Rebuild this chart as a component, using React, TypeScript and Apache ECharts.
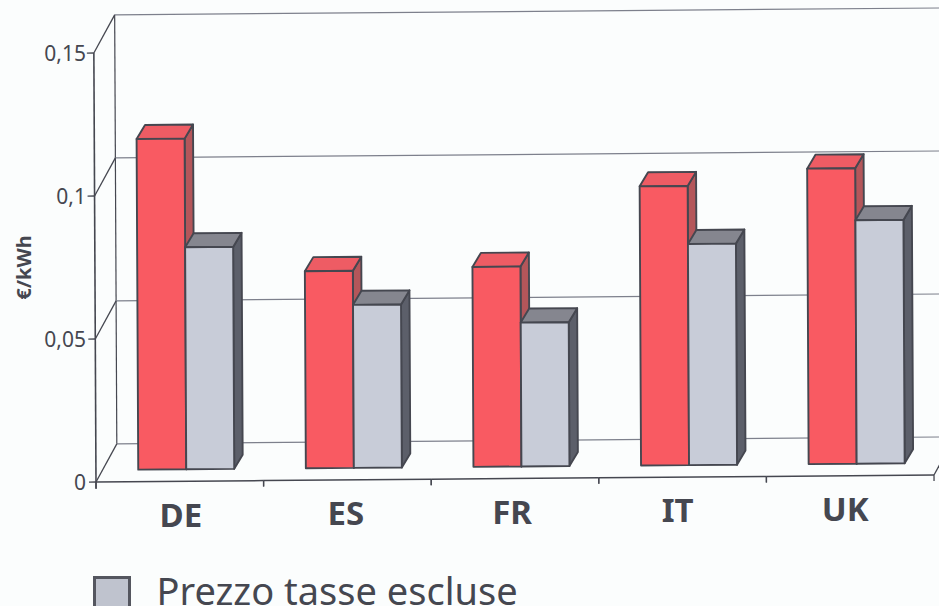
import React, { useEffect, useRef } from "react";
import * as echarts from "echarts";

const categories = ["DE", "ES", "FR", "IT", "UK"];
const withTax = [0.1156, 0.0689, 0.0699, 0.0976, 0.1033];
const withoutTax = [0.0776, 0.057, 0.0503, 0.0773, 0.0851];
const yTicks = [0, 0.05, 0.1, 0.15];
const labelDrops = [6, 4, 3, 1, 0];
const labelShifts = [1, -1.6, -3, -5, -5];

const INK = "#454750";
const WALL = "#7d808c";
const PIVOT_X = 96;
const PIVOT_Y = 482;

// the scanned page sits slightly rotated
const tilt = (x: number, y: number) => [
  x + (y - PIVOT_Y) * 0.005,
  y - (x - PIVOT_X) * 0.0083,
];

const poly = (pts: number[][], fill: string, stroke = INK, lineWidth = 1.9) => ({
  type: "polygon",
  shape: { points: pts.map(([x, y]) => tilt(x, y)) },
  style: { fill, stroke, lineWidth, lineJoin: "round" },
});

const seg = (a: number[], b: number[], stroke: string, lineWidth = 1.2) => {
  const [p, q] = [tilt(a[0], a[1]), tilt(b[0], b[1])];
  return {
    type: "line",
    shape: { x1: p[0], y1: p[1], x2: q[0], y2: q[1] },
    style: { stroke, lineWidth },
  };
};

const BACK_X = 21;
const BACK_Y = -38;

const wallItem = (params: any, api: any) => {
  const v = api.value(0);
  const [x, y] = api.coord([0, v]);
  const band = api.size([1, 0])[0];
  const left = x - band / 2;
  const far = left + 900;
  const children: any[] = [
    seg([left + BACK_X, y + BACK_Y], [far, y + BACK_Y], WALL, 1.2),
    seg([left, y], [left + BACK_X, y + BACK_Y], INK, 1.3),
    seg([left - 7, y], [left, y], INK, 1.3),
  ];
  if (params.dataIndex === 0) {
    const top = api.coord([0, yTicks[yTicks.length - 1]])[1];
    children.push(seg([left, top], [left, y + 7], INK, 1.6));
    children.push(seg([left + BACK_X, top + BACK_Y], [left + BACK_X, y + BACK_Y], INK, 1.2));
  }
  return { type: "group", children };
};

const baseItem = (params: any, api: any) => {
  const [x, y] = api.coord([params.dataIndex, 0]);
  const band = api.size([1, 0])[0];
  const left = x - band / 2;
  const right = x + band / 2;
  const children: any[] = [
    seg([left, y], [right, y], INK, 1.5),
    seg([right, y], [right, y + 6], INK, 1.3),
    seg([left, y], [left, y + 6], INK, 1.3),
  ];
  if (params.dataIndex === categories.length - 1) {
    children.push(seg([right, y], [right + BACK_X, y + BACK_Y], INK, 1.3));
  }
  return { type: "group", children };
};

const barItem = (x0: number, front: string, topFace: string, side: string) => (_: any, api: any) => {
  const [cx, topY] = api.coord([api.value(0), api.value(1)]);
  const bottomY = api.coord([api.value(0), 0])[1];
  const raise = 12;
  const w = 48;
  const dx = 8.5;
  const dy = -14;
  const l = cx + x0;
  const r = l + w;
  const t = topY - raise;
  const b = bottomY - raise;
  return {
    type: "group",
    children: [
      poly([[r, t], [r + dx, t + dy], [r + dx, b + dy], [r, b]], side),
      poly([[l, t], [l + dx, t + dy], [r + dx, t + dy], [r, t]], topFace),
      poly([[l, t], [r, t], [r, b], [l, b]], front),
    ],
  };
};

export default function App() {
  const ref = useRef<HTMLDivElement>(null);
  useEffect(() => {
    const chart = echarts.init(ref.current!, undefined, { renderer: "svg" });
    const rich: Record<string, any> = {};
    labelDrops.forEach((d, i) => {
      const s = labelShifts[i];
      rich["c" + i] = {
        fontFamily: "Noto Sans",
        fontWeight: "bold",
        fontSize: 33,
        color: INK,
        padding: [d, Math.max(0, -2 * s), 0, Math.max(0, 2 * s)],
      };
    });
    chart.setOption({
      animation: false,
      backgroundColor: "#fbfdfd",
      grid: { left: 96, right: 5, top: 53, bottom: 124 },
      xAxis: {
        type: "category",
        data: categories,
        axisLine: { show: false },
        axisTick: { show: false },
        splitLine: { show: false },
        axisLabel: {
          margin: 10,
          formatter: (v: string) => `{c${categories.indexOf(v)}|${v}}`,
          rich,
        },
      },
      yAxis: {
        type: "value",
        min: 0,
        max: 0.15,
        interval: 0.05,
        name: "€/kWh",
        nameLocation: "middle",
        nameGap: 62,
        nameRotate: 90,
        nameTextStyle: { fontFamily: "Noto Sans", fontWeight: "bold", fontSize: 20, color: INK },
        axisLine: { show: false },
        axisTick: { show: false },
        splitLine: { show: false },
        axisLabel: {
          margin: 10,
          fontFamily: "Noto Sans",
          fontSize: 21,
          color: INK,
          formatter: (v: number) => String(v).replace(".", ","),
        },
      },
      legend: {
        left: 93,
        top: 571,
        padding: 0,
        itemWidth: 35,
        itemHeight: 31,
        formatter: "{t|{name}}",
        data: [
          {
            name: "Prezzo tasse escluse",
            icon: "rect",
            itemStyle: { color: "#bfc3ce", borderColor: "#54565f", borderWidth: 3 },
          },
        ],
        textStyle: {
          rich: {
            t: {
              fontFamily: "Noto Sans",
              fontSize: 38,
              lineHeight: 24,
              color: INK,
              padding: [0, 0, 6, 22],
            },
          },
        },
      },
      series: [
        {
          type: "custom",
          name: "wall",
          coordinateSystem: "cartesian2d",
          data: yTicks.map((v) => [v]),
          encode: { y: 0 },
          renderItem: wallItem,
          silent: true,
        },
        {
          type: "custom",
          name: "base",
          coordinateSystem: "cartesian2d",
          data: categories.map((c) => [c, 0]),
          encode: { x: 0, y: 1 },
          renderItem: baseItem,
          silent: true,
        },
        {
          type: "custom",
          name: "Prezzo tasse incluse",
          coordinateSystem: "cartesian2d",
          data: categories.map((c, i) => [c, withTax[i]]),
          encode: { x: 0, y: 1 },
          itemStyle: { color: "#f85c64" },
          renderItem: barItem(-41.5, "#f95a62", "#ee5c64", "#b4565a"),
        },
        {
          type: "custom",
          name: "Prezzo tasse escluse",
          coordinateSystem: "cartesian2d",
          data: categories.map((c, i) => [c, withoutTax[i]]),
          encode: { x: 0, y: 1 },
          itemStyle: { color: "#c3c7d2" },
          renderItem: barItem(6.5, "#c8ccd8", "#85868f", "#5c5f6a"),
        },
      ],
    });
    return () => chart.dispose();
  }, []);
  return (
    <div
      ref={ref}
      style={{ position: "absolute", left: 0, top: 0, width: 939, height: 606, overflow: "hidden" }}
    />
  );
}
